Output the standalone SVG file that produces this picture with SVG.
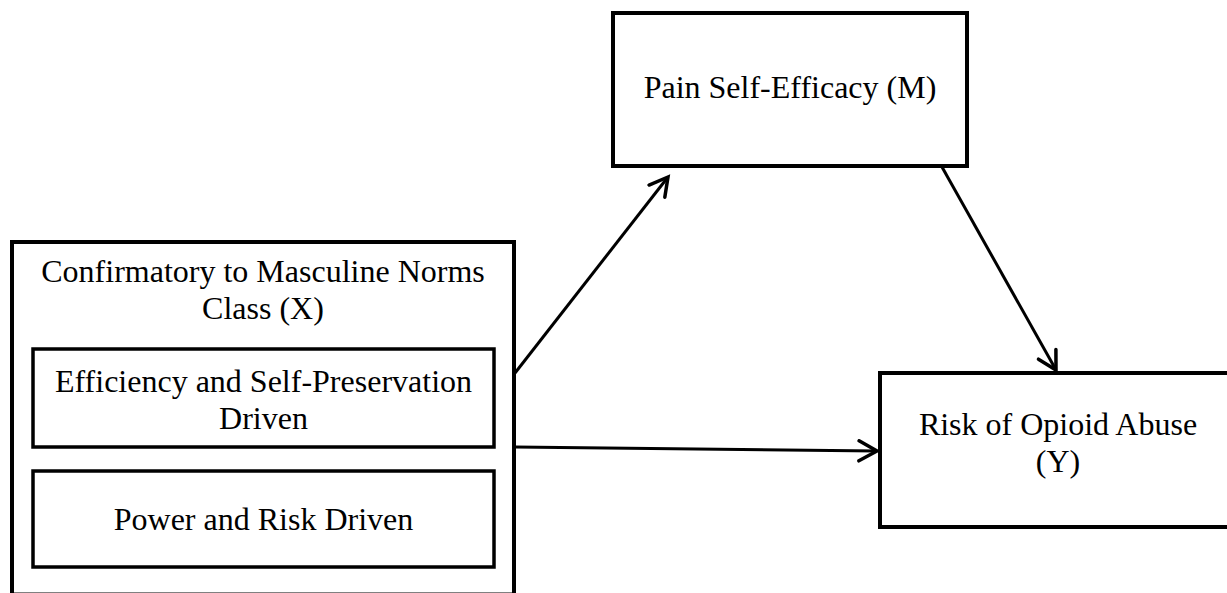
<svg xmlns="http://www.w3.org/2000/svg" width="1227" height="593" viewBox="0 0 1227 593">
  <style>
    .box { fill: #ffffff; stroke: #000000; stroke-width: 4; }
    .inner { fill: #ffffff; stroke: #000000; stroke-width: 3.5; }
    .label { font-family: "Liberation Serif", "Times New Roman", serif; font-size: 32px; fill: #000000; text-anchor: middle; }
    .edge { fill: none; stroke: #000000; stroke-width: 3; marker-end: url(#arrow); }
  </style>
  <defs>
    <marker id="arrow" markerUnits="userSpaceOnUse" markerWidth="24" markerHeight="26" refX="20" refY="12" orient="auto">
      <path d="M2,2 L20,12 L2,22" fill="none" stroke="#000000" stroke-width="3.5" stroke-linecap="round" stroke-linejoin="miter"/>
    </marker>
  </defs>
  <rect width="1227" height="593" fill="#ffffff"/>

  <!-- predictor: class with two sub-classes -->
  <g id="node-x">
    <rect class="box" x="12" y="242" width="502" height="352.5"/>
    <text class="label" x="263" y="282">Confirmatory to Masculine Norms</text>
    <text class="label" x="263" y="319">Class (X)</text>
  </g>
  <g id="node-x-efficiency">
    <rect class="inner" x="33" y="349" width="461" height="98"/>
    <text class="label" x="263.5" y="392">Efficiency and Self-Preservation</text>
    <text class="label" x="263.5" y="429">Driven</text>
  </g>
  <g id="node-x-power">
    <rect class="inner" x="33" y="471" width="461" height="96"/>
    <text class="label" x="263.5" y="530">Power and Risk Driven</text>
  </g>

  <!-- mediator -->
  <g id="node-m">
    <rect class="box" x="613" y="13" width="354" height="153"/>
    <text class="label" x="790" y="98">Pain Self-Efficacy (M)</text>
  </g>

  <!-- outcome -->
  <g id="node-y">
    <rect class="box" x="880" y="373" width="360" height="154"/>
    <text class="label" x="1058" y="435">Risk of Opioid Abuse</text>
    <text class="label" x="1058" y="472">(Y)</text>
  </g>

  <g id="connectors">
    <line class="edge" x1="515" y1="373" x2="668" y2="177"/>
    <line class="edge" x1="942" y1="167" x2="1056" y2="370"/>
    <line class="edge" x1="515" y1="447" x2="877" y2="451"/>
  </g>
</svg>
